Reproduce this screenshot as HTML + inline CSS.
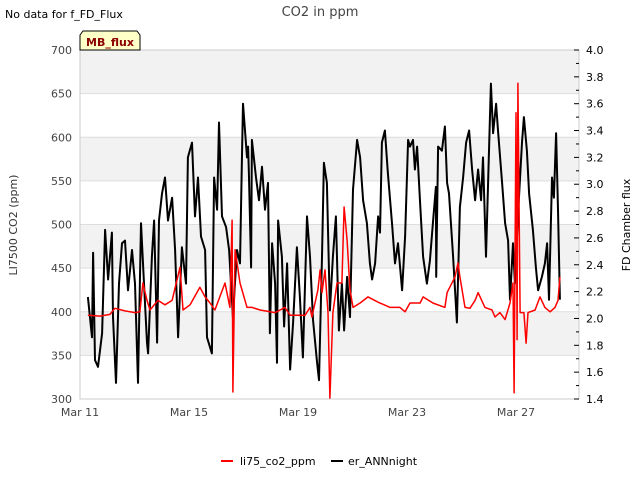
<!DOCTYPE html>
<html><head><meta charset="utf-8"><style>
body{margin:0;background:#fff;font-family:"DejaVu Sans","Liberation Sans",sans-serif;}
svg text{font-family:"DejaVu Sans","Liberation Sans",sans-serif;}
</style></head><body>
<svg id="chart" width="640" height="480" viewBox="0 0 640 480" xmlns="http://www.w3.org/2000/svg">
<rect width="640" height="480" fill="#fff"/>
<g id="bands"></g>
<g id="grid"></g>
<rect x="80" y="50" width="499" height="349" fill="none" stroke="#ccc" stroke-width="1"/>
<g id="series"></g>
<g id="axes"></g>
<text x="320" y="16" text-anchor="middle" font-size="13" fill="#444">CO2 in ppm</text>
<text x="5" y="18" font-size="11" fill="#000">No data for f_FD_Flux</text>
<g>
<path d="M83 31 L137 31 L140 35 L140 50 L80 50 L80 35 Z" fill="#ffffc8" stroke="#000" stroke-width="1"/>
<text x="110" y="46" text-anchor="middle" font-size="11" font-weight="bold" fill="#8b0000">MB_flux</text>
</g>
<text transform="translate(17,225) rotate(-90)" text-anchor="middle" font-size="11" fill="#333">LI7500 CO2 (ppm)</text>
<text transform="translate(630,225) rotate(-90)" text-anchor="middle" font-size="11" fill="#000">FD Chamber flux</text>
<g>
<g><line x1="221" y1="461" x2="233" y2="461" stroke="#f00" stroke-width="2"/><text x="240" y="465" font-size="11" fill="#000">li75_co2_ppm</text></g>
<g><line x1="331" y1="461" x2="343" y2="461" stroke="#000" stroke-width="2"/><text x="348" y="465" font-size="11" fill="#000">er_ANNnight</text></g>
</g>
</svg>
<script>
const blackDays=[0.29,0.44,0.48,0.55,0.66,0.81,0.92,1.03,1.17,1.21,1.32,1.43,1.54,1.65,1.76,1.91,2.02,2.13,2.24,2.35,2.46,2.50,2.64,2.72,2.83,2.90,3.01,3.12,3.23,3.38,3.49,3.60,3.74,3.89,3.96,4.11,4.22,4.33,4.44,4.59,4.66,4.84,4.92,5.03,5.10,5.21,5.36,5.47,5.61,5.76,5.87,5.94,5.98,6.13,6.17,6.20,6.28,6.31,6.46,6.57,6.68,6.79,6.90,6.97,7.05,7.16,7.23,7.27,7.41,7.49,7.60,7.71,7.82,7.96,8.07,8.18,8.33,8.44,8.55,8.70,8.77,8.88,8.95,9.06,9.17,9.28,9.39,9.50,9.61,9.69,9.80,9.91,10.02,10.17,10.28,10.39,10.53,10.64,10.72,10.83,10.94,11.01,11.08,11.19,11.30,11.45,11.56,11.67,11.82,11.93,12.04,12.11,12.22,12.29,12.37,12.48,12.59,12.73,12.84,12.95,13.06,13.07,13.14,13.28,13.39,13.47,13.54,13.69,13.83,13.94,14.06,14.17,14.28,14.39,14.50,14.61,14.72,14.79,14.90,15.01,15.08,15.16,15.27,15.34,15.49,15.60,15.71,15.78,15.89,15.96,16.07,16.22,16.29,16.40,16.48,16.62,16.73,16.81,16.95,17.06,17.14,17.21,17.32,17.39,17.47,17.54,17.61];
const blackValues=[2.16,1.86,2.49,1.69,1.64,1.89,2.66,2.29,2.64,2.01,1.52,2.26,2.56,2.58,2.21,2.51,2.26,1.52,2.71,2.26,1.82,1.74,2.46,2.73,1.82,2.73,2.93,3.05,2.73,2.90,2.51,1.86,2.53,2.26,3.20,3.31,2.76,3.05,2.61,2.51,1.86,1.74,3.05,2.81,3.46,2.76,2.68,2.51,2.01,2.51,2.41,3.18,3.60,3.20,3.28,3.08,2.38,3.33,3.05,2.88,3.13,2.81,3.01,1.89,2.56,2.26,1.67,2.73,2.46,1.94,2.41,1.62,1.97,2.53,2.16,1.71,2.76,2.46,1.99,1.67,1.54,2.46,3.16,3.01,2.06,2.46,2.76,1.91,2.26,1.91,2.31,2.01,2.96,3.33,3.20,2.88,2.71,2.41,2.29,2.41,2.76,2.64,3.31,3.40,3.08,2.71,2.41,2.56,2.21,2.61,3.33,3.28,3.33,3.11,3.28,2.86,2.46,2.26,2.43,2.71,2.98,2.31,3.28,3.25,3.43,3.01,2.93,2.46,1.97,2.83,3.05,3.31,3.40,3.11,2.88,3.11,2.88,3.20,2.46,3.25,3.75,3.38,3.60,3.40,3.01,2.71,2.58,2.14,2.56,2.26,2.76,3.31,3.50,3.25,2.93,2.66,2.38,2.21,2.31,2.41,2.56,2.14,3.05,2.90,3.38,2.81,2.14];
const redDays=[0.29,0.73,1.10,1.28,1.65,2.02,2.20,2.31,2.46,2.57,2.86,3.12,3.38,3.67,3.78,4.04,4.40,4.59,4.77,4.95,5.32,5.50,5.58,5.61,5.69,5.87,6.13,6.31,6.61,7.16,7.52,7.71,8.26,8.44,8.51,8.73,8.81,8.88,8.99,9.10,9.17,9.28,9.43,9.61,9.69,9.80,9.91,10.02,10.28,10.57,10.94,11.38,11.74,11.93,12.11,12.48,12.59,12.95,13.39,13.47,13.76,13.87,13.94,14.13,14.31,14.50,14.61,14.86,15.12,15.23,15.41,15.60,15.78,15.89,15.93,16.00,16.04,16.07,16.15,16.29,16.37,16.44,16.70,16.88,17.06,17.25,17.43,17.54,17.61];
const redValues=[396,395,397,404,401,399,400,433,413,402,413,408,413,451,402,408,428,417,410,402,433,405,505,308,471,433,405,405,402,399,405,396,396,405,394,425,448,422,448,399,301,399,433,433,520,482,425,405,410,417,411,405,405,400,410,410,417,410,405,422,440,456,440,405,404,413,422,405,402,394,399,391,410,433,307,628,368,662,399,399,364,399,402,417,405,400,405,413,440];
const xTickLabels=["Mar 11","Mar 15","Mar 19","Mar 23","Mar 27"];
const xTickDays=[0,4,8,12,16];
const leftTicks=[300,350,400,450,500,550,600,650,700];
const rightTicks=[1.4,1.6,1.8,2.0,2.2,2.4,2.6,2.8,3.0,3.2,3.4,3.6,3.8,4.0];

const NS="http://www.w3.org/2000/svg";
const PL=80,PR=579,PT=50,PB=399,XMAX=(PR-PL)/27.25;
const xs=d=>PL+d/XMAX*(PR-PL);
const yl=v=>PB-(v-300)/400*(PB-PT);
const yr=v=>PB-(v-1.4)/2.6*(PB-PT);
function mk(tag,attrs,parent){const e=document.createElementNS(NS,tag);for(const k in attrs)e.setAttribute(k,attrs[k]);parent.appendChild(e);return e;}
const bands=document.getElementById('bands'),grid=document.getElementById('grid'),series=document.getElementById('series'),axes=document.getElementById('axes');
for(let i=0;i<leftTicks.length-1;i++){
  if(i%2===1){const r=mk('rect',{x:PL,y:yl(leftTicks[i+1]),width:PR-PL,height:yl(leftTicks[i])-yl(leftTicks[i+1]),fill:'#f2f2f2'},bands);
  
  }
}
leftTicks.forEach(v=>{
  const g=mk('line',{x1:PL,x2:PR,y1:yl(v),y2:yl(v),stroke:'#ddd','stroke-width':1},grid);
  
  
  const t=mk('text',{x:72,y:yl(v)+4,'text-anchor':'end','font-size':11,fill:'#444'},axes);t.textContent=v;
  
  
});
for(let k=14;k<=40;k++){const v=k/10,y=yr(v),major=k%2===0;
  const l=mk('line',{x1:major?574:576,x2:579,y1:y,y2:y,stroke:'#000','stroke-width':1},axes);
  
  
}
rightTicks.forEach(v=>{const t=mk('text',{x:586,y:yr(v)+4,'font-size':11,fill:'#000'},axes);t.textContent=v.toFixed(1);
  
  });
xTickDays.forEach((d,i)=>{const t=mk('text',{x:xs(d),y:416,'text-anchor':'middle','font-size':11,fill:'#444'},axes);t.textContent=xTickLabels[i];
  
  });
const bp=blackDays.map((d,i)=>xs(d).toFixed(1)+','+yr(blackValues[i]).toFixed(1)).join(' ');
const bl=mk('polyline',{points:bp,fill:'none',stroke:'#000','stroke-width':2,'stroke-linejoin':'round'},series);


const rp=redDays.map((d,i)=>xs(d).toFixed(1)+','+yl(redValues[i]).toFixed(1)).join(' ');
const rl=mk('polyline',{points:rp,fill:'none',stroke:'#f00','stroke-width':1.5,'stroke-linejoin':'round'},series);


</script>
</body></html>
